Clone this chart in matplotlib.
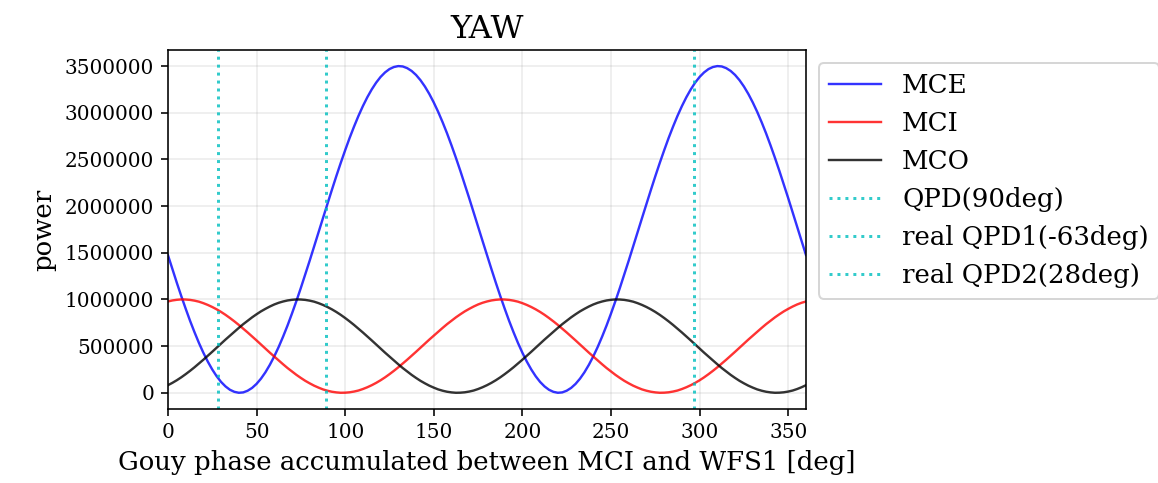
import matplotlib
matplotlib.use("Agg")
import matplotlib.pyplot as plt

# Gouy phase [deg], sampled every 2.5 deg from 0 to 360
phase = [i * 2.5 for i in range(145)]

# power
mce = [1476e3, 1327e3, 1180e3, 1038e3, 902e3, 771e3, 649e3, 534e3, 429e3, 334e3,
       250e3, 177e3, 116e3, 68e3, 32e3, 10e3, 0, 4e3, 22e3, 52e3,
       95e3, 151e3, 219e3, 299e3, 390e3, 491e3, 602e3, 721e3, 849e3, 983e3,
       1123e3, 1268e3, 1416e3, 1567e3, 1719e3, 1872e3, 2024e3, 2173e3, 2320e3, 2462e3,
       2598e3, 2729e3, 2851e3, 2966e3, 3071e3, 3166e3, 3250e3, 3323e3, 3384e3, 3432e3,
       3468e3, 3490e3, 3500e3, 3496e3, 3478e3, 3448e3, 3405e3, 3349e3, 3281e3, 3201e3,
       3110e3, 3009e3, 2898e3, 2779e3, 2651e3, 2517e3, 2377e3, 2232e3, 2084e3, 1933e3,
       1781e3, 1628e3,
       1476e3, 1327e3, 1180e3, 1038e3, 902e3, 771e3, 649e3, 534e3, 429e3, 334e3,
       250e3, 177e3, 116e3, 68e3, 32e3, 10e3, 0, 4e3, 22e3, 52e3,
       95e3, 151e3, 219e3, 299e3, 390e3, 491e3, 602e3, 721e3, 849e3, 983e3,
       1123e3, 1268e3, 1416e3, 1567e3, 1719e3, 1872e3, 2024e3, 2173e3, 2320e3, 2462e3,
       2598e3, 2729e3, 2851e3, 2966e3, 3071e3, 3166e3, 3250e3, 3323e3, 3384e3, 3432e3,
       3468e3, 3490e3, 3500e3, 3496e3, 3478e3, 3448e3, 3405e3, 3349e3, 3281e3, 3201e3,
       3110e3, 3009e3, 2898e3, 2779e3, 2651e3, 2517e3, 2377e3, 2232e3, 2084e3, 1933e3,
       1781e3, 1628e3, 1476e3]

mci = [978e3, 989e3, 996e3, 1000e3, 999e3, 995e3, 987e3, 976e3, 960e3, 941e3,
       919e3, 894e3, 866e3, 835e3, 801e3, 765e3, 727e3, 687e3, 646e3, 604e3,
       561e3, 517e3, 474e3, 430e3, 388e3, 345e3, 305e3, 265e3, 228e3, 192e3,
       159e3, 128e3, 101e3, 76e3, 55e3, 36e3, 22e3, 11e3, 4e3, 0,
       1e3, 5e3, 13e3, 24e3, 40e3, 59e3, 81e3, 106e3, 134e3, 165e3,
       199e3, 235e3, 273e3, 313e3, 354e3, 396e3, 439e3, 483e3, 526e3, 570e3,
       612e3, 655e3, 695e3, 735e3, 772e3, 808e3, 841e3, 872e3, 899e3, 924e3,
       946e3, 964e3,
       978e3, 989e3, 996e3, 1000e3, 999e3, 995e3, 987e3, 976e3, 960e3, 941e3,
       919e3, 894e3, 866e3, 835e3, 801e3, 765e3, 727e3, 687e3, 646e3, 604e3,
       561e3, 517e3, 474e3, 430e3, 388e3, 345e3, 305e3, 265e3, 228e3, 192e3,
       159e3, 128e3, 101e3, 76e3, 55e3, 36e3, 22e3, 11e3, 4e3, 0,
       1e3, 5e3, 13e3, 24e3, 40e3, 59e3, 81e3, 106e3, 134e3, 165e3,
       199e3, 235e3, 273e3, 313e3, 354e3, 396e3, 439e3, 483e3, 526e3, 570e3,
       612e3, 655e3, 695e3, 735e3, 772e3, 808e3, 841e3, 872e3, 899e3, 924e3,
       946e3, 964e3, 978e3]

mco = [81e3, 106e3, 134e3, 165e3, 199e3, 235e3, 273e3, 313e3, 354e3, 396e3,
       439e3, 483e3, 526e3, 570e3, 612e3, 655e3, 695e3, 735e3, 772e3, 808e3,
       841e3, 872e3, 899e3, 924e3, 946e3, 964e3, 978e3, 989e3, 996e3, 1000e3,
       999e3, 995e3, 987e3, 976e3, 960e3, 941e3, 919e3, 894e3, 866e3, 835e3,
       801e3, 765e3, 727e3, 687e3, 646e3, 604e3, 561e3, 517e3, 474e3, 430e3,
       388e3, 345e3, 305e3, 265e3, 228e3, 192e3, 159e3, 128e3, 101e3, 76e3,
       55e3, 36e3, 22e3, 11e3, 4e3, 0, 1e3, 5e3, 13e3, 24e3,
       40e3, 59e3,
       81e3, 106e3, 134e3, 165e3, 199e3, 235e3, 273e3, 313e3, 354e3, 396e3,
       439e3, 483e3, 526e3, 570e3, 612e3, 655e3, 695e3, 735e3, 772e3, 808e3,
       841e3, 872e3, 899e3, 924e3, 946e3, 964e3, 978e3, 989e3, 996e3, 1000e3,
       999e3, 995e3, 987e3, 976e3, 960e3, 941e3, 919e3, 894e3, 866e3, 835e3,
       801e3, 765e3, 727e3, 687e3, 646e3, 604e3, 561e3, 517e3, 474e3, 430e3,
       388e3, 345e3, 305e3, 265e3, 228e3, 192e3, 159e3, 128e3, 101e3, 76e3,
       55e3, 36e3, 22e3, 11e3, 4e3, 0, 1e3, 5e3, 13e3, 24e3,
       40e3, 59e3, 81e3]

# QPD positions [deg]
qpd_labels = ["QPD(90deg)", "real QPD1(-63deg)", "real QPD2(28deg)"]
qpd_phase = [89, 297, 28]

plt.rcParams['font.family'] = ['DejaVu Serif']

fig = plt.figure(figsize=(1158 / 144, 483 / 144), dpi=144)
ax = fig.add_axes([0.145, 0.153, 0.551, 0.744])

ax.plot(phase, mce, color='b', alpha=0.8, lw=1.2, label="MCE")
ax.plot(phase, mci, color='r', alpha=0.8, lw=1.2, label="MCI")
ax.plot(phase, mco, color='k', alpha=0.8, lw=1.2, label="MCO")
for p, lab in zip(qpd_phase, qpd_labels):
    ax.axvline(p, color='c', alpha=0.8, ls=':', lw=1.5, label=lab)

ax.set_xlim(0, 360)
ax.ticklabel_format(style='plain', axis='y', useOffset=False)
ax.grid(True, color='gray', alpha=0.12, lw=1)
ax.tick_params(labelsize=10)

ax.set_title("YAW", fontsize=16)
ax.set_xlabel("Gouy phase accumulated between MCI and WFS1 [deg]", fontsize=13)
ax.set_ylabel("power", fontsize=13)
ax.legend(loc='upper left', bbox_to_anchor=(1.0, 1.0), fontsize=13)

fig.savefig("out.png", dpi=144)
plt.close(fig)
